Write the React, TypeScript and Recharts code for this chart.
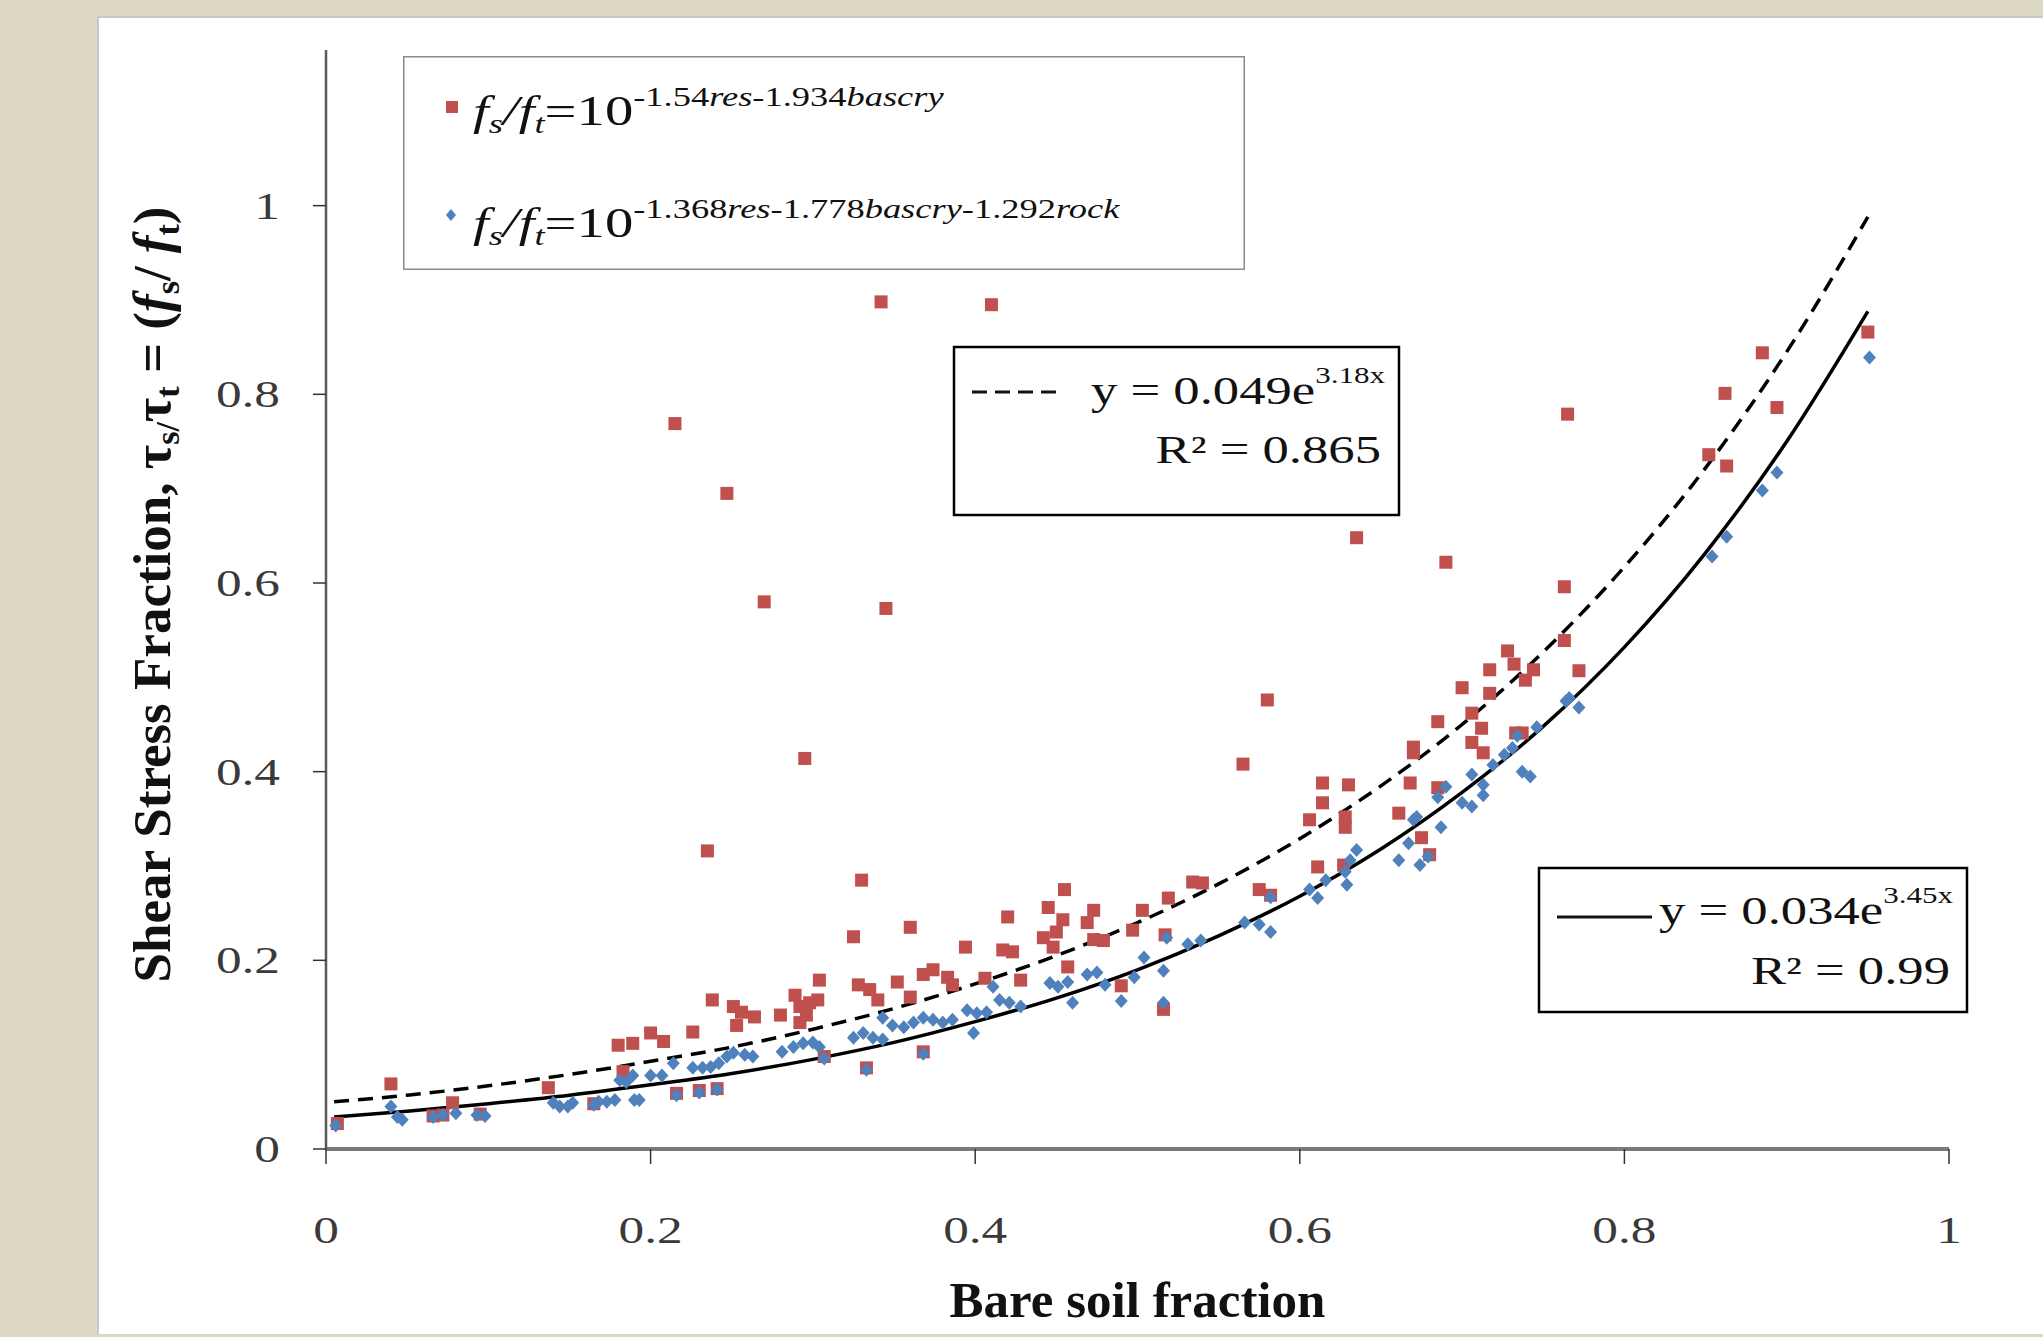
import React from 'react';
import { ComposedChart, Scatter, Line, XAxis, YAxis, Legend, Label } from 'recharts';

const serif = '"Liberation Serif", "Times New Roman", serif';
const RED = '#c0504d';
const BLUE = '#4f81bd';
// the source picture is stretched sideways, so most text is widened a bit
const STRETCH = 1.35;

const xTicks = [0, 0.2, 0.4, 0.6, 0.8, 1];
const yTicks = [0, 0.2, 0.4, 0.6, 0.8, 1];

const redName = 'fs/ft=10-1.54res-1.934bascry';
const blueName = 'fs/ft=10-1.368res-1.778bascry-1.292rock';
const redSup: [string, boolean][] = [['-1.54', false], ['res', true], ['-1.934', false], ['bascry', true]];
const blueSup: [string, boolean][] = [
  ['-1.368', false], ['res', true], ['-1.778', false], ['bascry', true], ['-1.292', false], ['rock', true],
];

// red squares
const redPoints: [number, number][] = [
  [0.007, 0.027], [0.040, 0.069], [0.078, 0.049], [0.095, 0.037], [0.137, 0.065], [0.180, 0.110],
  [0.189, 0.112], [0.200, 0.123], [0.208, 0.114], [0.183, 0.082], [0.216, 0.059], [0.226, 0.124],
  [0.238, 0.158], [0.230, 0.062], [0.241, 0.064], [0.165, 0.048], [0.066, 0.035], [0.072, 0.036],
  [0.215, 0.769], [0.235, 0.316], [0.247, 0.695], [0.270, 0.580], [0.295, 0.414], [0.342, 0.898],
  [0.345, 0.573], [0.410, 0.895], [0.580, 0.476], [0.565, 0.408], [0.635, 0.648], [0.690, 0.622],
  [0.765, 0.779], [0.763, 0.596],
  [0.251, 0.151], [0.256, 0.145], [0.264, 0.140], [0.253, 0.131], [0.280, 0.142], [0.289, 0.163],
  [0.292, 0.151], [0.298, 0.155], [0.303, 0.158], [0.304, 0.179], [0.292, 0.134], [0.296, 0.142],
  [0.325, 0.225], [0.330, 0.285], [0.328, 0.174], [0.335, 0.169], [0.340, 0.158], [0.352, 0.177],
  [0.360, 0.235], [0.360, 0.161], [0.368, 0.185], [0.374, 0.190], [0.383, 0.182], [0.386, 0.174],
  [0.394, 0.214], [0.406, 0.181], [0.420, 0.246], [0.417, 0.211], [0.423, 0.209], [0.428, 0.179],
  [0.445, 0.256], [0.455, 0.275], [0.442, 0.224], [0.450, 0.230], [0.454, 0.243], [0.448, 0.214],
  [0.457, 0.193], [0.469, 0.240], [0.473, 0.253], [0.473, 0.222], [0.307, 0.098], [0.333, 0.086],
  [0.368, 0.103], [0.479, 0.221], [0.490, 0.173], [0.516, 0.148],
  [0.503, 0.253], [0.497, 0.232], [0.517, 0.227], [0.519, 0.266], [0.534, 0.283], [0.540, 0.282],
  [0.575, 0.275], [0.582, 0.269], [0.614, 0.388], [0.630, 0.386], [0.614, 0.367], [0.606, 0.349],
  [0.628, 0.352], [0.628, 0.341], [0.611, 0.299], [0.627, 0.301], [0.661, 0.356], [0.668, 0.388],
  [0.670, 0.426], [0.670, 0.420], [0.675, 0.330], [0.680, 0.312], [0.685, 0.453], [0.685, 0.383],
  [0.700, 0.489], [0.706, 0.462], [0.712, 0.446], [0.706, 0.431], [0.713, 0.420], [0.717, 0.508],
  [0.717, 0.483], [0.728, 0.528], [0.732, 0.514], [0.739, 0.497], [0.744, 0.508], [0.733, 0.441],
  [0.737, 0.441], [0.763, 0.539], [0.772, 0.507], [0.852, 0.736], [0.862, 0.801], [0.863, 0.724],
  [0.885, 0.844], [0.894, 0.786], [0.950, 0.866],
];

// blue diamonds
const bluePoints: [number, number][] = [
  [0.006, 0.025], [0.040, 0.045], [0.044, 0.034], [0.047, 0.031], [0.066, 0.034], [0.072, 0.036],
  [0.080, 0.038], [0.093, 0.036], [0.098, 0.035], [0.140, 0.049], [0.144, 0.045], [0.149, 0.045],
  [0.152, 0.049], [0.165, 0.047], [0.168, 0.050], [0.173, 0.050], [0.178, 0.052], [0.181, 0.073],
  [0.185, 0.071], [0.189, 0.078], [0.190, 0.052], [0.193, 0.052], [0.200, 0.078], [0.207, 0.078],
  [0.214, 0.091], [0.216, 0.057], [0.226, 0.086], [0.232, 0.086], [0.237, 0.087], [0.242, 0.091],
  [0.230, 0.060], [0.241, 0.063],
  [0.247, 0.098], [0.251, 0.102], [0.258, 0.100], [0.263, 0.098], [0.281, 0.103], [0.288, 0.108],
  [0.294, 0.112], [0.300, 0.113], [0.304, 0.108], [0.307, 0.096], [0.325, 0.118], [0.331, 0.123],
  [0.337, 0.118], [0.343, 0.116], [0.333, 0.084], [0.343, 0.139], [0.349, 0.131], [0.356, 0.129],
  [0.362, 0.134], [0.368, 0.139], [0.368, 0.101], [0.374, 0.137], [0.380, 0.134], [0.386, 0.137],
  [0.395, 0.147], [0.401, 0.144], [0.407, 0.145], [0.399, 0.123], [0.411, 0.172], [0.415, 0.158],
  [0.421, 0.155], [0.428, 0.151], [0.446, 0.176], [0.451, 0.172], [0.457, 0.177], [0.460, 0.155],
  [0.469, 0.185], [0.475, 0.187], [0.480, 0.174],
  [0.490, 0.157], [0.498, 0.182], [0.504, 0.203], [0.516, 0.189], [0.516, 0.155], [0.518, 0.224],
  [0.531, 0.217], [0.539, 0.221], [0.566, 0.240], [0.575, 0.238], [0.582, 0.230], [0.582, 0.267],
  [0.606, 0.275], [0.611, 0.266], [0.616, 0.285], [0.629, 0.280], [0.628, 0.294], [0.631, 0.306],
  [0.635, 0.317], [0.661, 0.306], [0.667, 0.324], [0.670, 0.349], [0.672, 0.352], [0.674, 0.301],
  [0.679, 0.310], [0.687, 0.341], [0.685, 0.373], [0.690, 0.384], [0.700, 0.367], [0.706, 0.363],
  [0.713, 0.375], [0.706, 0.397], [0.713, 0.386], [0.719, 0.407], [0.726, 0.418], [0.731, 0.425],
  [0.734, 0.438], [0.737, 0.400], [0.742, 0.395], [0.746, 0.447], [0.764, 0.475], [0.766, 0.478],
  [0.772, 0.468], [0.854, 0.628], [0.863, 0.649], [0.885, 0.698], [0.894, 0.717], [0.951, 0.839],
];

// trend lines
const trendX = [0.005, 0.05, 0.1, 0.15, 0.2, 0.25, 0.3, 0.35, 0.4, 0.45, 0.5, 0.55, 0.6, 0.65, 0.7, 0.75, 0.8, 0.85, 0.9, 0.95];
const dashedFitY = [0.050, 0.057, 0.067, 0.079, 0.093, 0.108, 0.127, 0.149, 0.175, 0.205, 0.240, 0.281, 0.329, 0.385, 0.450, 0.527, 0.617, 0.722, 0.845, 0.988];
const solidFitY = [0.034, 0.040, 0.048, 0.057, 0.068, 0.080, 0.095, 0.113, 0.135, 0.160, 0.190, 0.226, 0.268, 0.318, 0.378, 0.448, 0.532, 0.632, 0.750, 0.888];

const toXY = (pts: [number, number][]) => pts.map(([x, y]) => ({ x, y }));
const redData = toXY(redPoints);
const blueData = toXY(bluePoints);
const dashedData = trendX.map((x, i) => ({ x, y: dashedFitY[i] }));
const solidData = trendX.map((x, i) => ({ x, y: solidFitY[i] }));

const RedSquare = (p: any) => (
  <rect x={p.cx - 6.5} y={p.cy - 6.5} width={13} height={13} fill={RED} />
);

const BlueDiamond = (p: any) => (
  <path
    d={`M${p.cx},${p.cy - 7}L${p.cx + 6.5},${p.cy}L${p.cx},${p.cy + 7}L${p.cx - 6.5},${p.cy}Z`}
    fill={BLUE}
  />
);

const XTick = ({ x, y, payload }: any) => (
  <text
    transform={`translate(${x},${y}) scale(${STRETCH},1)`}
    textAnchor="middle"
    dy={29}
    fontFamily={serif}
    fontSize={38}
    fill="#3a3a3a"
  >
    {payload.value}
  </text>
);

const YTick = ({ x, y, payload }: any) => (
  <text
    transform={`translate(${x},${y}) scale(${STRETCH},1)`}
    textAnchor="end"
    dy={13}
    fontFamily={serif}
    fontSize={38}
    fill="#3a3a3a"
  >
    {payload.value}
  </text>
);

const XTitle = ({ viewBox }: any) => (
  <text
    x={viewBox.x + viewBox.width / 2}
    y={viewBox.y + 168}
    textAnchor="middle"
    fontFamily={serif}
    fontWeight="bold"
    fontSize={51}
    fill="#111"
  >
    Bare soil fraction
  </text>
);

const YTitle = ({ viewBox }: any) => {
  const cx = viewBox.x + viewBox.width - 156;
  const cy = viewBox.y + viewBox.height / 2 - 5;
  return (
    <text
      transform={`translate(${cx},${cy}) rotate(-90)`}
      textAnchor="middle"
      fontFamily={serif}
      fontWeight="bold"
      fontSize={53}
      fill="#111"
    >
      Shear Stress Fraction, τ
      <tspan fontSize={34} dy={9}>s/</tspan>
      <tspan dy={-9}>τ</tspan>
      <tspan fontSize={34} dy={9}>t</tspan>
      <tspan dy={-9}> = (</tspan>
      <tspan fontStyle="italic">f</tspan>
      <tspan fontSize={34} dy={9}>s</tspan>
      <tspan dy={-9}>/ </tspan>
      <tspan fontStyle="italic">f</tspan>
      <tspan fontSize={34} dy={9}>t</tspan>
      <tspan dy={-9}>)</tspan>
    </text>
  );
};

const Formula = ({ x, y, sup }: { x: number; y: number; sup: [string, boolean][] }) => (
  <text
    transform={`translate(${x},${y}) scale(${STRETCH},1)`}
    fontFamily={serif}
    fontSize={42}
    fill="#111"
  >
    <tspan fontStyle="italic">f</tspan>
    <tspan fontStyle="italic" fontSize={27} dy={8}>s</tspan>
    <tspan fontStyle="italic" dy={-8}>/f</tspan>
    <tspan fontStyle="italic" fontSize={27} dy={8}>t</tspan>
    <tspan dy={-8}>=10</tspan>
    {sup.map(([t, it], i) => (
      <tspan key={i} fontSize={27} dy={i === 0 ? -19 : 0} fontStyle={it ? 'italic' : 'normal'}>
        {t}
      </tspan>
    ))}
  </text>
);

const renderLegend = () => (
  <svg width={842} height={214} style={{ display: 'block' }}>
    <rect x={0.75} y={0.75} width={840.5} height={212.5} fill="#fff" stroke="#8a8a8a" strokeWidth={1.5} />
    <rect x={43} y={45} width={12} height={12} fill={RED} />
    <Formula x={70} y={69} sup={redSup} />
    <path d="M48,153L53,159L48,165L43,159Z" fill={BLUE} />
    <Formula x={70} y={181} sup={blueSup} />
  </svg>
);

const EqText = ({ x, y, coef, power }: { x: number; y: number; coef: string; power: string }) => (
  <text
    transform={`translate(${x},${y}) scale(${STRETCH},1)`}
    textAnchor="end"
    fontFamily={serif}
    fontSize={39}
    fill="#111"
  >
    {`y = ${coef}e`}
    <tspan fontSize={23} dy={-21}>{power}</tspan>
  </text>
);

const R2Text = ({ x, y, value }: { x: number; y: number; value: string }) => (
  <text
    transform={`translate(${x},${y}) scale(${STRETCH},1)`}
    textAnchor="end"
    fontFamily={serif}
    fontSize={39}
    fill="#111"
  >
    {`R² = ${value}`}
  </text>
);

const EquationBoxes = () => (
  <svg
    width={2043}
    height={1337}
    style={{ position: 'absolute', left: 0, top: 0, pointerEvents: 'none' }}
  >
    <rect x={954} y={347} width={445} height={168} fill="#fff" stroke="#000" strokeWidth={2.5} />
    <line x1={972} y1={392} x2={1056} y2={392} stroke="#111" strokeWidth={3} strokeDasharray="15 8" />
    <EqText x={1385} y={404} coef="0.049" power="3.18x" />
    <R2Text x={1381} y={463} value="0.865" />

    <rect x={1539} y={868} width={428} height={144} fill="#fff" stroke="#000" strokeWidth={2.5} />
    <line x1={1557} y1={917} x2={1652} y2={917} stroke="#111" strokeWidth={3} />
    <EqText x={1953} y={924} coef="0.034" power="3.45x" />
    <R2Text x={1950} y={984} value="0.99" />
  </svg>
);

export default function App() {
  return (
    <div
      style={{
        position: 'absolute',
        left: 0,
        top: 0,
        width: 2043,
        height: 1337,
        background: '#ddd8c3',
        overflow: 'hidden',
      }}
    >
      <div
        style={{
          position: 'absolute',
          left: 97,
          top: 16,
          width: 1950,
          height: 1318,
          background: '#fff',
          borderLeft: '2px solid #c9c9c9',
          borderTop: '2px solid #c9c9c9',
          boxSizing: 'border-box',
        }}
      />
      <div style={{ position: 'absolute', left: 0, top: 0 }}>
        <ComposedChart
          width={2043}
          height={1337}
          margin={{ top: 50, right: 94, bottom: 158, left: 266 }}
        >
          <XAxis
            type="number"
            dataKey="x"
            domain={[0, 1]}
            ticks={xTicks}
            height={30}
            tickSize={15}
            tickMargin={50}
            tick={<XTick />}
            axisLine={{ stroke: '#7a7a7a', strokeWidth: 4 }}
            tickLine={{ stroke: '#333', strokeWidth: 1.5 }}
          >
            <Label content={<XTitle />} />
          </XAxis>
          <YAxis
            type="number"
            dataKey="y"
            domain={[0, 1.165]}
            ticks={yTicks}
            width={60}
            tickSize={13}
            tickMargin={33}
            tick={<YTick />}
            axisLine={{ stroke: '#5a5a5a', strokeWidth: 2.5 }}
            tickLine={{ stroke: '#333', strokeWidth: 1.5 }}
          >
            <Label content={<YTitle />} />
          </YAxis>
          <Legend
            layout="horizontal"
            align="center"
            verticalAlign="middle"
            content={renderLegend}
            wrapperStyle={{ left: 403, top: 56, width: 842, height: 214 }}
          />
          <Scatter
            name={redName}
            data={redData}
            dataKey="y"
            fill={RED}
            shape={RedSquare}
            isAnimationActive={false}
          />
          <Scatter
            name={blueName}
            data={blueData}
            dataKey="y"
            fill={BLUE}
            shape={BlueDiamond}
            isAnimationActive={false}
          />
          <Line
            data={dashedData}
            dataKey="y"
            type="monotone"
            stroke="#000"
            strokeWidth={3.5}
            strokeDasharray="15 9"
            dot={false}
            legendType="none"
            isAnimationActive={false}
          />
          <Line
            data={solidData}
            dataKey="y"
            type="monotone"
            stroke="#000"
            strokeWidth={3.5}
            dot={false}
            legendType="none"
            isAnimationActive={false}
          />
        </ComposedChart>
      </div>
      <EquationBoxes />
    </div>
  );
}
